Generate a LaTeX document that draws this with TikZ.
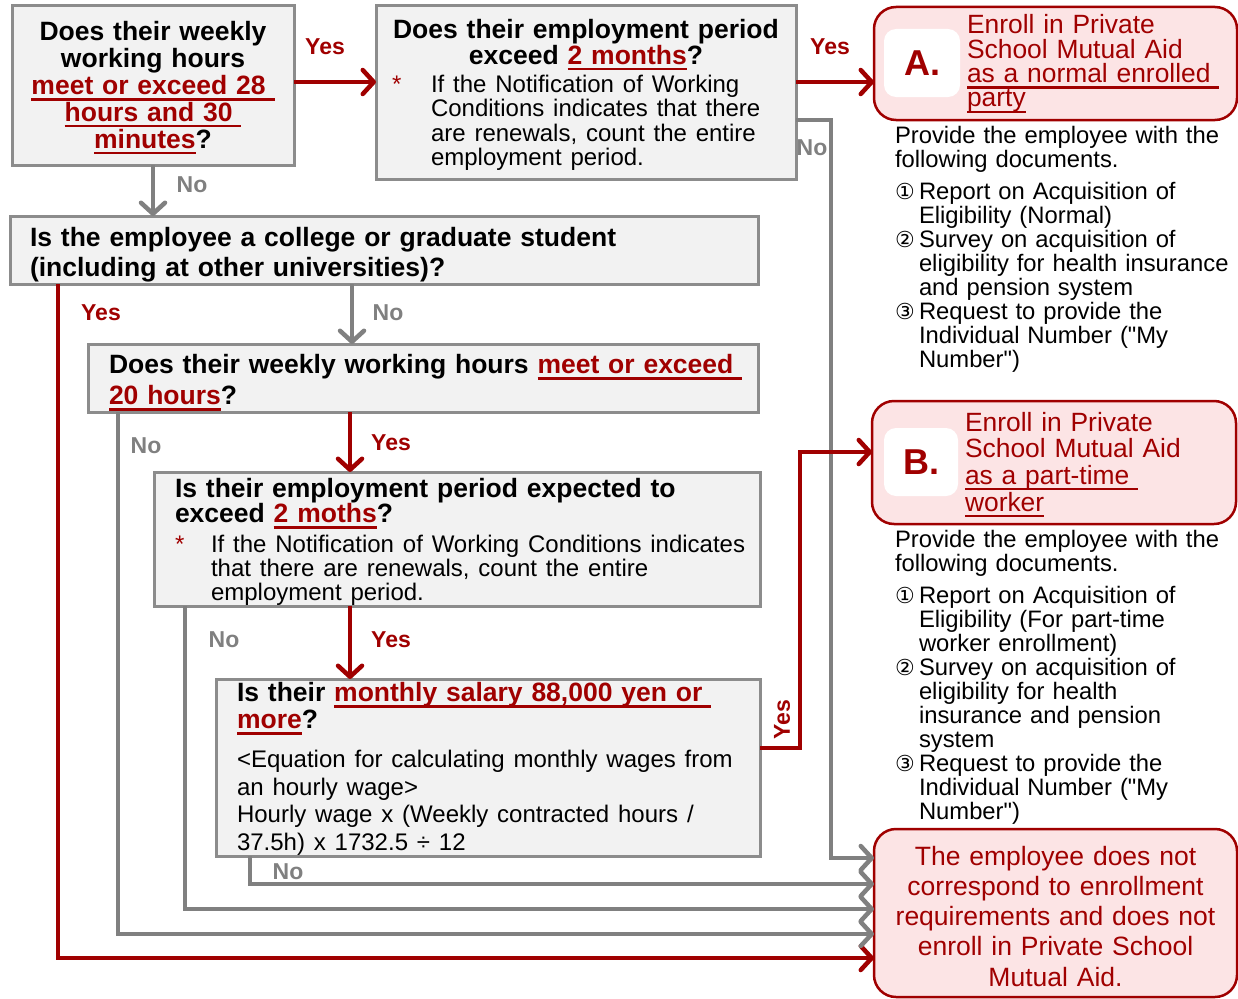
\documentclass[tikz,border=0pt]{standalone}
\usepackage{fontspec}
\setmainfont{Liberation Sans}
\newfontfamily\circfont{DejaVu Sans}
\newfontfamily\plainfont{Liberation Sans}
\usetikzlibrary{arrows.meta}

\definecolor{darkred}{RGB}{160,0,0}
\definecolor{linegray}{RGB}{128,128,128}
\definecolor{boxgray}{RGB}{140,140,140}
\definecolor{boxfill}{RGB}{242,242,242}
\definecolor{pinkfill}{RGB}{252,228,229}

\newcommand{\redul}[1]{\leavevmode\sbox0{\color{darkred}#1}\rlap{\color{darkred}\rule[-6pt]{\wd0}{2.2pt}}\usebox0}
\newcommand{\circnum}[1]{\makebox[24pt][l]{\circfont\fontsize{22}{22}\selectfont#1}}
\newcommand{\hang}{\hspace*{24pt}}
\newcommand{\dq}{{\plainfont"}}

\begin{document}
\begin{tikzpicture}[x=1pt,y=-1pt]
	\tikzstyle{every node}=[inner sep=0pt, outer sep=0pt]
	\tikzstyle{qbox}=[draw=boxgray, line width=3pt, fill=boxfill, anchor=base, font=\fontsize{26.5}{27}\selectfont\bfseries]
	\tikzstyle{resbox}=[draw=darkred, line width=2.5pt, fill=pinkfill, rounded corners=22pt]
	\tikzstyle{letbox}=[fill=white, rounded corners=12pt, text=darkred, font=\fontsize{36}{36}\selectfont\bfseries]
	\tikzstyle{redtext}=[anchor=base west, text width=265pt, align=left, text=darkred]
	\tikzstyle{doctext}=[anchor=base west, text width=400pt, align=left, font=\fontsize{23.8}{24}\selectfont]
	\tikzstyle{yesline}=[darkred, line width=4.5pt]
	\tikzstyle{noline}=[linegray, line width=4.5pt]
	\tikzstyle{barb}=[-{Straight Barb[length=11pt,width=24pt,round]}]
	\tikzstyle{yeslbl}=[text=darkred, font=\fontsize{23}{23}\selectfont\bfseries]
	\tikzstyle{nolbl}=[text=linegray, font=\fontsize{23}{23}\selectfont\bfseries]

	\useasboundingbox (0,0) rectangle (1238,998);

	% questions
	\node[qbox, minimum width=282pt, text width=262pt, text height=35pt, text depth=124pt, align=center, font=\fontsize{26.5}{26.8}\selectfont\bfseries] (q1) at (153,41) {Does their weekly\\ working hours\\ \redul{meet or exceed 28\ }\\ \redul{hours and 30\ }\\ \redul{minutes}?};
	\node[qbox, minimum width=420pt, text width=400pt, text height=32pt, text depth=141pt, align=center, font=\fontsize{26.5}{26}\selectfont\bfseries] (q2) at (586,38) {Does their employment period\\ exceed \redul{2 months}?\\[2pt] {\mdseries\fontsize{24}{24}\selectfont\begin{tabular}[t]{@{}p{39pt}@{}p{349pt}@{}}\textcolor{darkred}{*} & If the Notification of Working\\ & Conditions indicates that there\\ & are renewals, count the entire\\ & employment period.\end{tabular}}};
	\node[qbox, minimum width=748pt, text width=708pt, text height=30.5pt, text depth=37.5pt, align=left, font=\fontsize{26.5}{30}\selectfont\bfseries] (q3) at (384,246.5) {Is the employee a college or graduate student\\ (including at other universities)?};
	\node[qbox, minimum width=670pt, text width=628pt, text height=29.5pt, text depth=38.5pt, align=left, font=\fontsize{26.5}{31}\selectfont\bfseries] (q4) at (423,373.5) {\mbox{Does their weekly working hours \redul{meet or exceed\ }}\\ \redul{20 hours}?};
	\node[qbox, minimum width=606pt, text width=564pt, text height=25.5pt, text depth=108.5pt, align=left, font=\fontsize{26.5}{25}\selectfont\bfseries] (q5) at (457,497.5) {Is their employment period expected to\\ exceed \redul{2 moths}?\\[6pt] {\mdseries\fontsize{24}{24}\selectfont\mbox{\makebox[36pt][l]{\textcolor{darkred}{*}}If the Notification of Working Conditions indicates}\\ \hspace*{36pt}that there are renewals, count the entire\\ \hspace*{36pt}employment period.\par}};
	\node[qbox, minimum width=544pt, text width=502pt, text height=22.5pt, text depth=154.5pt, align=left] (q6) at (488,701.5) {Is their \redul{monthly salary 88,000 yen or\ }\\ \redul{more}?\\[11.5pt] {\mdseries\fontsize{24}{27.5}\selectfont <Equation for calculating monthly wages from\\ an hourly wage>\\ Hourly wage x (Weekly contracted hours /\\ 37.5h) x 1732.5 ÷ 12\par}};

	% results
	\node[resbox, minimum width=363pt, minimum height=113pt] (resA) at (1055.5,63.5) {};
	\node[letbox, minimum width=76pt, minimum height=68pt] (letA) at (922,63) {A.};
	\node[redtext, font=\fontsize{26.4}{24.3}\selectfont] (txtA) at (967,34) {Enroll in Private\\ School Mutual Aid\\ \redul{as a normal enrolled\ }\\ \redul{party}};
	\node[doctext] (docA) at (895,143) {Provide the employee with the\\ following documents.\\[8pt] \circnum{①}Report on Acquisition of\\ \hang Eligibility (Normal)\\ \circnum{②}Survey on acquisition of\\ \hang eligibility for health insurance\\ \hang and pension system\\ \circnum{③}Request to provide the\\ \hang Individual Number (\dq My\\ \hang Number\dq)};

	\node[resbox, minimum width=364pt, minimum height=123pt] (resB) at (1054,462.5) {};
	\node[letbox, minimum width=74pt, minimum height=68pt] (letB) at (921,462) {B.};
	\node[redtext, font=\fontsize{26.4}{26.7}\selectfont] (txtB) at (965,431) {Enroll in Private\\ School Mutual Aid\\ \redul{as a part-time\ }\\ \redul{worker}};
	\node[doctext] (docB) at (895,547) {Provide the employee with the\\ following documents.\\[8pt] \circnum{①}Report on Acquisition of\\ \hang Eligibility (For part-time\\ \hang worker enrollment)\\ \circnum{②}Survey on acquisition of\\ \hang eligibility for health\\ \hang insurance and pension\\ \hang system\\ \circnum{③}Request to provide the\\ \hang Individual Number (\dq My\\ \hang Number\dq)};

	\node[resbox, minimum width=363pt, text width=343pt, text height=36pt, text depth=132pt, anchor=base, align=center, text=darkred, font=\fontsize{26.5}{30.3}\selectfont] (final) at (1055.5,865) {The employee does not\\ correspond to enrollment\\ requirements and does not\\ enroll in Private School\\ Mutual Aid.};

	% yes / no
	\draw[yesline, barb] ([yshift=3.5pt]q1.east) -- ([yshift=3.5pt]q1.east -| q2.west);
	\draw[yesline, barb] ([yshift=10.5pt]q2.east) -- ([yshift=10.5pt]q2.east -| resA.west);
	\draw[noline, barb] ([yshift=-27.5pt]q2.east) -- ++(35,0) |- ([yshift=55pt]final.west);
	\draw[noline, barb] (q1.south) -- (q1.south |- q3.north);
	\draw[yesline, barb] ([xshift=48pt]q3.south west) |- ([yshift=-45pt]final.west);
	\draw[noline, barb] ([xshift=-71pt]q4.north |- q3.south) -- ([xshift=-71pt]q4.north);
	\draw[noline, barb] ([xshift=30pt]q4.south west) |- ([yshift=-21pt]final.west);
	\draw[yesline, barb] ([xshift=-107pt]q5.north |- q4.south) -- ([xshift=-107pt]q5.north);
	\draw[noline, barb] ([xshift=31pt]q5.south west) |- ([yshift=4pt]final.west);
	\draw[yesline, barb] ([xshift=-138pt]q6.north |- q5.south) -- ([xshift=-138pt]q6.north);
	\draw[yesline, barb] ([yshift=19.5pt]q6.east) -- ++(40,0) |- ([yshift=10.5pt]resB.west);
	\draw[noline, barb] ([xshift=34pt]q6.south west) |- ([yshift=29pt]final.west);

	\node[yeslbl] (y1) at (325,47) {Yes};
	\node[yeslbl] (y2) at (830,47) {Yes};
	\node[nolbl] (n2) at (812,148) {No};
	\node[nolbl] (n1) at (192,185) {No};
	\node[yeslbl] (y3) at (101,313) {Yes};
	\node[nolbl] (n3) at (388,313) {No};
	\node[nolbl] (n4) at (146,446) {No};
	\node[yeslbl] (y4) at (391,443) {Yes};
	\node[nolbl] (n5) at (224,640) {No};
	\node[yeslbl] (y5) at (391,640) {Yes};
	\node[yeslbl, rotate=90] (y6) at (782,720) {Yes};
	\node[nolbl] (n6) at (288,872) {No};
\end{tikzpicture}
\end{document}
